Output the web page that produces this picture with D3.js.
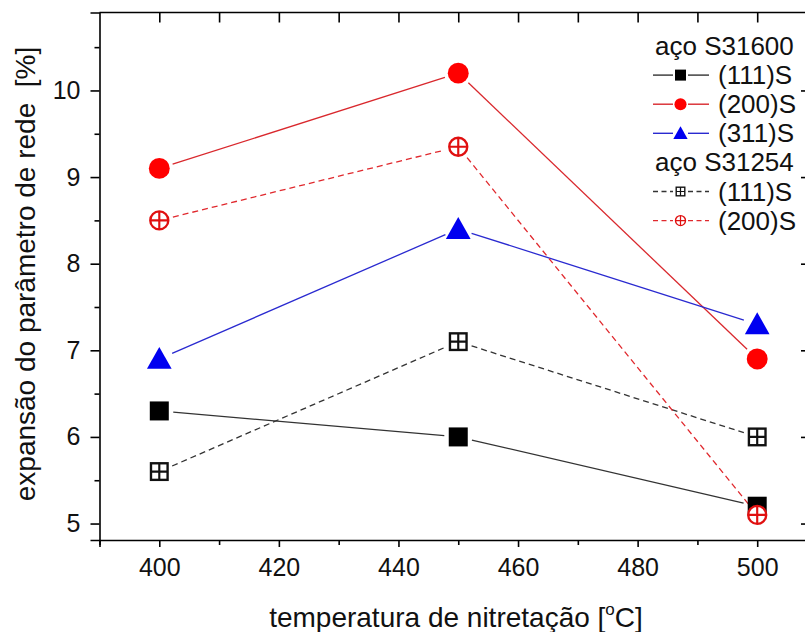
<!DOCTYPE html>
<html><head><meta charset="utf-8">
<script src="https://cdn.jsdelivr.net/npm/d3@7"></script>
<style>body{margin:0;background:#fff}svg{display:block}text{font-family:"Liberation Sans",Arial,sans-serif}</style>
</head><body>
<script>
const temps = [400, 450, 500];
const s31600_111 = [6.3, 6.0, 5.2];
const s31600_200 = [9.1, 10.2, 6.9];
const s31600_311 = [6.9, 8.4, 7.3];
const s31254_111 = [5.6, 7.1, 6.0];
const s31254_200 = [8.5, 9.35, 5.1];
const xTicks = [400, 420, 440, 460, 480, 500];
const yTicks = [5, 6, 7, 8, 9, 10];

const W = 805, H = 632;
const svg = d3.select("body").append("svg").attr("width", W).attr("height", H);
const x = d3.scaleLinear().domain([390, 510]).range([99.5, 817]);
const y = d3.scaleLinear().domain([4.81, 10.9]).range([540, 12.5]);

const series = [
  {vals: s31600_111, line: "#333", dash: null, marker: "fsquare", mc: "#000"},
  {vals: s31600_200, line: "#d9282d", dash: null, marker: "fcircle", mc: "#f00"},
  {vals: s31600_311, line: "#2a2ad0", dash: null, marker: "ftri", mc: "#0000f0"},
  {vals: s31254_111, line: "#333", dash: "6,4", marker: "osquare", mc: "#111"},
  {vals: s31254_200, line: "#e0282d", dash: "6,4", marker: "ocircle", mc: "#e01010"}
];

// frame
const g = svg.append("g");
g.append("line").attr("x1", x(390)).attr("x2", x(510)).attr("y1", y(10.9)).attr("y2", y(10.9)).attr("stroke", "#000").attr("stroke-width", 1.6);
g.append("line").attr("x1", x(510)).attr("x2", x(510)).attr("y1", y(10.9)).attr("y2", y(4.81)).attr("stroke", "#000").attr("stroke-width", 1.6);

// bottom axis
const xMinor = d3.range(390, 511, 10).filter(v => v % 20 !== 0);
const bx = svg.append("g").attr("transform", `translate(0,${y(4.81)})`)
  .call(d3.axisBottom(x).tickValues(xTicks).tickSize(7).tickPadding(11).tickFormat(d3.format("d")));
bx.select(".domain").attr("stroke-width", 1.6);
bx.selectAll(".tick line").attr("stroke-width", 1.6);
bx.selectAll("text").attr("font-size", 25).attr("font-family", "Liberation Sans, Arial").attr("fill", "#111");
svg.append("g").attr("transform", `translate(0,${y(4.81)})`)
  .call(d3.axisBottom(x).tickValues(xMinor).tickSize(5).tickFormat(""))
  .call(a => { a.select(".domain").remove(); a.selectAll(".tick line").attr("stroke-width", 1.6); });

// top axis inward ticks
svg.append("g").attr("transform", `translate(0,${y(10.9)})`)
  .call(d3.axisBottom(x).tickValues(d3.range(400, 511, 10)).tickSize(10).tickFormat(""))
  .call(a => { a.select(".domain").remove(); a.selectAll(".tick line").attr("stroke-width", 1.6); });

// left axis
const yMinor = [5.5, 6.5, 7.5, 8.5, 9.5, 10.5];
const ly = svg.append("g").attr("transform", `translate(${x(390)},0)`)
  .call(d3.axisLeft(y).tickValues(yTicks).tickSize(9).tickPadding(10).tickFormat(d3.format("d")));
ly.select(".domain").attr("stroke-width", 1.6);
ly.selectAll(".tick line").attr("stroke-width", 1.6);
ly.selectAll("text").attr("font-size", 25).attr("font-family", "Liberation Sans, Arial").attr("fill", "#111");
svg.append("g").attr("transform", `translate(${x(390)},0)`)
  .call(d3.axisLeft(y).tickValues(yMinor).tickSize(5).tickFormat(""))
  .call(a => { a.select(".domain").remove(); a.selectAll(".tick line").attr("stroke-width", 1.6); });

// right axis inward ticks
svg.append("g").attr("transform", `translate(${x(510)},0)`)
  .call(d3.axisRight(y).tickValues(yTicks).tickSize(-16).tickFormat(""))
  .call(a => { a.select(".domain").remove(); a.selectAll(".tick line").attr("stroke-width", 1.6); });
svg.append("g").attr("transform", `translate(${x(510)},0)`)
  .call(d3.axisRight(y).tickValues(yMinor).tickSize(-8).tickFormat(""))
  .call(a => { a.select(".domain").remove(); a.selectAll(".tick line").attr("stroke-width", 1.6); });

// marker drawing
function drawMarker(sel, type, c, cx, cy, s) {
  const r = s / 2;
  if (type === "fsquare") {
    sel.append("rect").attr("x", cx - r).attr("y", cy - r).attr("width", s).attr("height", s).attr("fill", c);
  } else if (type === "fcircle") {
    sel.append("circle").attr("cx", cx).attr("cy", cy).attr("r", r * 1.1).attr("fill", c);
  } else if (type === "ftri") {
    const w = s * 1.3, h = s * 1.15;
    sel.append("path").attr("d", `M${cx},${cy - h * 0.55}L${cx + w / 2},${cy + h * 0.45}L${cx - w / 2},${cy + h * 0.45}Z`).attr("fill", c);
  } else if (type === "osquare") {
    const q = r - 1.2;
    const sw = Math.max(1.3, s / 8);
    sel.append("rect").attr("x", cx - q).attr("y", cy - q).attr("width", 2 * q).attr("height", 2 * q).attr("fill", "#fff").attr("stroke", c).attr("stroke-width", sw);
    sel.append("path").attr("d", `M${cx - q},${cy}H${cx + q}M${cx},${cy - q}V${cy + q}`).attr("stroke", c).attr("stroke-width", sw * 0.9);
  } else if (type === "ocircle") {
    const q = r - 0.5;
    const sw = Math.max(1.3, s / 8);
    sel.append("circle").attr("cx", cx).attr("cy", cy).attr("r", q).attr("fill", "#fff").attr("stroke", c).attr("stroke-width", sw);
    sel.append("path").attr("d", `M${cx - q},${cy}H${cx + q}M${cx},${cy - q}V${cy + q}`).attr("stroke", c).attr("stroke-width", sw * 0.9);
  }
}

const plot = svg.append("g");
const gap = 14;
series.forEach(s => {
  const pts = temps.map((t, i) => [x(t), y(s.vals[i])]);
  for (let i = 0; i < pts.length - 1; i++) {
    const [x1, y1] = pts[i], [x2, y2] = pts[i + 1];
    const dx = x2 - x1, dy = y2 - y1, L = Math.hypot(dx, dy);
    const ux = dx / L, uy = dy / L;
    plot.append("line")
      .attr("x1", x1 + ux * gap).attr("y1", y1 + uy * gap)
      .attr("x2", x2 - ux * gap).attr("y2", y2 - uy * gap)
      .attr("stroke", s.line).attr("stroke-width", 1.3)
      .attr("stroke-dasharray", s.dash);
  }
});
series.forEach(s => {
  temps.forEach((t, i) => drawMarker(plot, s.marker, s.mc, x(t), y(s.vals[i]), 19));
});

// legend
const leg = svg.append("g");
const legRows = [
  {title: "aço S31600"},
  {s: 0, label: "(111)S"},
  {s: 1, label: "(200)S"},
  {s: 2, label: "(311)S"},
  {title: "aço S31254"},
  {s: 3, label: "(111)S"},
  {s: 4, label: "(200)S"}
];
legRows.forEach((r, i) => {
  const cy = 46 + i * 29.1;
  if (r.title) {
    leg.append("text").attr("x", 655).attr("y", cy + 9).attr("font-size", 26).attr("fill", "#111").text(r.title);
  } else {
    const s = series[r.s];
    leg.append("line").attr("x1", 653).attr("x2", 673).attr("y1", cy).attr("y2", cy)
      .attr("stroke", s.line).attr("stroke-width", 1.4).attr("stroke-dasharray", s.dash ? "5,3.5" : null);
    leg.append("line").attr("x1", 688).attr("x2", 709).attr("y1", cy).attr("y2", cy)
      .attr("stroke", s.line).attr("stroke-width", 1.4).attr("stroke-dasharray", s.dash ? "5,3.5" : null);
    drawMarker(leg, s.marker, s.mc, 680.5, cy, 11);
    leg.append("text").attr("x", 718).attr("y", cy + 9).attr("font-size", 26).attr("fill", "#111").text(r.label);
  }
});

// axis titles
const xt = svg.append("text").attr("x", 456).attr("y", 627).attr("text-anchor", "middle").attr("font-size", 28).attr("fill", "#111");
xt.append("tspan").text("temperatura de nitretação [");
xt.append("tspan").attr("font-size", 17).attr("dy", -12).text("o");
xt.append("tspan").attr("dy", 12).text("C]");

svg.append("text").attr("transform", "translate(35,274) rotate(-90)").attr("text-anchor", "middle")
  .attr("font-size", 28).attr("fill", "#111").attr("xml:space", "preserve").style("white-space", "pre")
  .text("expansão do parâmetro de rede  [%]");
</script>
</body></html>
